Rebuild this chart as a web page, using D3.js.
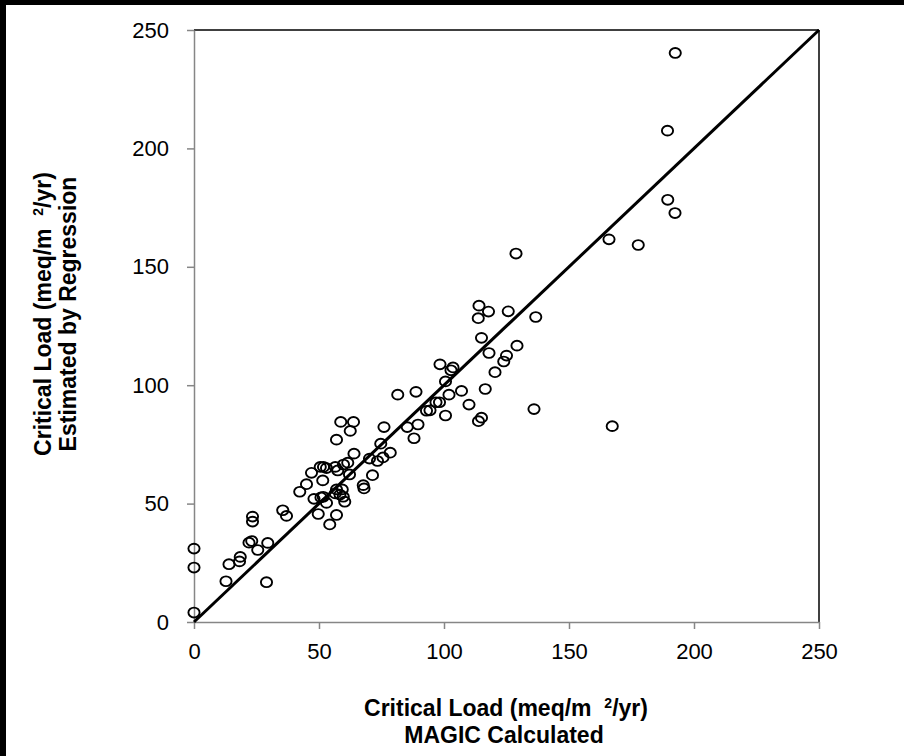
<!DOCTYPE html>
<html>
<head>
<meta charset="utf-8">
<script src="https://cdn.jsdelivr.net/npm/d3@7"></script>
<style>
  body { margin: 0; background: #fff; }
  svg { display: block; font-family: "Liberation Sans", Arial, sans-serif; }
</style>
</head>
<body>
<div id="chart"></div>
<script>
// MAGIC calculated (x) vs regression estimate (y), meq/m2/yr
var magicCalc = [0, 0, 0, 12.8, 14, 18.5, 18.2, 29, 25.5, 29.5, 22, 23.1, 23.4, 23.4,
  35.5, 37, 42.3, 45, 47, 48, 49.7, 50.5, 51.8, 53, 51.5, 51.7, 53, 54.3, 57, 56.5,
  57.5, 57, 58.7, 63.8, 62.5, 61.5, 62.2, 64, 57, 59.3, 58.4, 56.5, 59.7, 60.3, 67.7,
  68, 71.4, 70.2, 73.4, 74.7, 75.6, 78.5, 76, 81.5, 88.8, 85.3, 89.6, 88, 93, 94.4,
  96.8, 98.2, 98.4, 103.6, 102.8, 100.6, 107, 116.5, 102, 110, 100.6, 115, 113.8, 136,
  167.3, 114, 117.8, 113.7, 125.7, 136.7, 115, 129.2, 118, 125, 123.9, 120.4, 128.8,
  166, 177.7, 189.4, 192.5, 189.5, 192.4, 59.8, 50.8];
var regressionEst = [4, 23, 31, 17.2, 24.4, 27.5, 25.6, 16.8, 30.4, 33.4, 33.5, 34.2, 44.5, 42.4,
  47.2, 44.8, 55, 58.2, 63, 52, 45.6, 65.5, 65.5, 65, 59.8, 52.9, 50.3, 41.2, 45.2, 65.5,
  64, 77, 84.5, 84.5, 80.7, 67.3, 62.3, 71.1, 56, 56, 53.8, 54.3, 52.9, 50.8, 57.8,
  56.4, 62, 69, 68, 75.3, 69.5, 71.5, 82.3, 96, 97.2, 82.3, 83.4, 77.6, 89.2, 89.4,
  92.8, 92.8, 108.8, 107.5, 106.3, 101.6, 97.6, 98.4, 96, 91.8, 87.2, 86.3, 84.8, 89.9,
  82.7, 133.6, 131.1, 128.3, 131.2, 128.8, 120, 116.7, 113.6, 112.5, 110, 105.5, 155.6,
  161.6, 159.2, 207.5, 240.3, 178.3, 172.7, 66.5, 52.6];
var tickVals = [0, 50, 100, 150, 200, 250];
var oneToOne = [[0, 0], [250, 250]];

var width = 904, height = 756;
var margin = {left: 194, right: 85, top: 30, bottom: 134};

var svg = d3.select("#chart").append("svg")
  .attr("width", width)
  .attr("height", height);

// black strips on the top and left edge of the picture
svg.append("rect").attr("x", 0).attr("y", 0).attr("width", width).attr("height", 5).attr("fill", "#000");
svg.append("rect").attr("x", 0).attr("y", 0).attr("width", 6).attr("height", height).attr("fill", "#000");

var x = d3.scaleLinear().domain([0, 250]).range([margin.left, width - margin.right]);
var y = d3.scaleLinear().domain([0, 250]).range([height - margin.bottom, margin.top]);

// top and right frame lines
svg.append("line")
  .attr("x1", x(0)).attr("x2", x(250)).attr("y1", y(250)).attr("y2", y(250))
  .attr("stroke", "#000").attr("stroke-width", 1.5);
svg.append("line")
  .attr("x1", x(250)).attr("x2", x(250)).attr("y1", y(250)).attr("y2", y(0))
  .attr("stroke", "#000").attr("stroke-width", 1.5);

var xAxis = svg.append("g")
  .attr("transform", "translate(0," + y(0) + ")")
  .call(d3.axisBottom(x).tickValues(tickVals).tickSize(7).tickPadding(14).tickSizeOuter(0));
var yAxis = svg.append("g")
  .attr("transform", "translate(" + x(0) + ",0)")
  .call(d3.axisLeft(y).tickValues(tickVals).tickSize(7).tickPadding(18).tickSizeOuter(0));

[xAxis, yAxis].forEach(function(a) {
  a.select(".domain").attr("stroke", "#868686").attr("stroke-width", 1.5);
  a.selectAll(".tick line").attr("stroke", "#868686").attr("stroke-width", 1.5);
  a.selectAll(".tick text")
    .attr("fill", "#000")
    .style("font-size", "22px")
    .style("font-family", "'Liberation Sans', Arial, sans-serif");
});

// 1:1 line
svg.append("path")
  .datum(oneToOne)
  .attr("d", d3.line().x(function(d) { return x(d[0]); }).y(function(d) { return y(d[1]); }))
  .attr("stroke", "#000")
  .attr("stroke-width", 3)
  .attr("fill", "none");

svg.append("g")
  .selectAll("ellipse")
  .data(magicCalc)
  .enter().append("ellipse")
  .attr("cx", function(d) { return x(d); })
  .attr("cy", function(d, i) { return y(regressionEst[i]); })
  .attr("rx", 5.6)
  .attr("ry", 4.9)
  .attr("fill", "none")
  .attr("stroke", "#000")
  .attr("stroke-width", 1.9);

// axis titles
var xt = svg.append("text")
  .attr("text-anchor", "middle")
  .style("font-size", "23px")
  .style("font-weight", "bold");
xt.append("tspan").attr("x", 506).attr("y", 716)
  .text("Critical Load (meq/m\u00a0\u00a0")
  .append("tspan").attr("dy", -8).style("font-size", "14px").text("2");
xt.append("tspan").attr("dy", 8).text("/yr)");
svg.append("text")
  .attr("x", 504).attr("y", 743)
  .attr("text-anchor", "middle")
  .style("font-size", "23px")
  .style("font-weight", "bold")
  .text("MAGIC Calculated");

var yt = svg.append("g").attr("transform", "translate(51,314) rotate(-90)");
var yt1 = yt.append("text")
  .attr("text-anchor", "middle")
  .style("font-size", "23px")
  .style("font-weight", "bold");
yt1.append("tspan").text("Critical Load (meq/m\u00a0\u00a0");
yt1.append("tspan").attr("dy", -8).style("font-size", "14px").text("2");
yt1.append("tspan").attr("dy", 8).text("/yr)");
yt.append("text")
  .attr("y", 25)
  .attr("text-anchor", "middle")
  .style("font-size", "23px")
  .style("font-weight", "bold")
  .text("Estimated by Regression");
</script>
</body>
</html>
